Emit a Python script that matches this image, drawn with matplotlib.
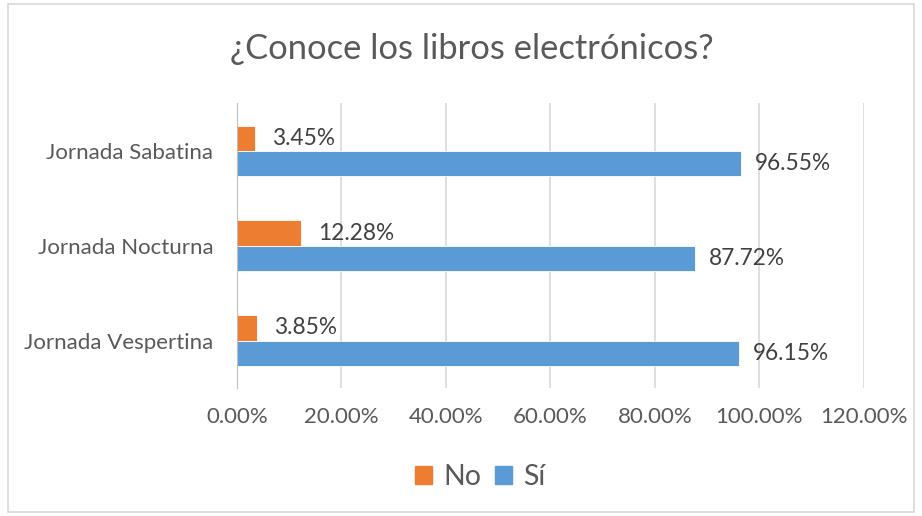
import matplotlib.pyplot as plt
import matplotlib.patches as mpatches
import numpy as np

# ─── Datos ────────────────────────────────────────────────────────────────────
jornadas = ["Jornada Vespertina", "Jornada Nocturna", "Jornada Sabatina"]
no_vals = [3.85, 12.28, 3.45]
si_vals = [96.15, 87.72, 96.55]
xticks = [0, 20, 40, 60, 80, 100, 120]

NARANJA = "#ED7D31"
AZUL = "#5B9BD5"
GRIS = "#595959"

plt.rcParams["font.family"] = ["Lato", "DejaVu Sans"]

fig = plt.figure(figsize=(9.22, 5.16), dpi=100)
ax = fig.add_axes([0.257, 0.248, 0.680, 0.552])

# marco exterior del gráfico
fig.patches.append(mpatches.Rectangle((0.009, 0.008), 0.982, 0.984, transform=fig.transFigure,
                                      fill=False, edgecolor="#d9d9d9", linewidth=1.2))

y = np.arange(len(jornadas))
h = 0.265
ax.barh(y - h / 2, si_vals, height=h, color=AZUL, edgecolor="white", linewidth=0.6, zorder=3)
ax.barh(y + h / 2, no_vals, height=h, color=NARANJA, edgecolor="white", linewidth=0.6, zorder=3)

for yi, v in zip(y, si_vals):
    ax.annotate(f"{v:.2f}%", (v, yi - h / 2), xytext=(10, 0), textcoords="offset points",
                va="center", ha="left", fontsize=16.3, color="#404040")
for yi, v in zip(y, no_vals):
    ax.annotate(f"{v:.2f}%", (v, yi + h / 2), xytext=(12, 0), textcoords="offset points",
                va="center", ha="left", fontsize=16.3, color="#404040")

ax.set_xlim(0, 120)
ax.set_ylim(-0.5, len(jornadas) - 0.5)
ax.set_xticks(xticks)
ax.set_xticklabels([f"{t:.2f}%" for t in xticks], fontsize=16, color=GRIS)
ax.set_yticks(y)
ax.set_yticklabels(jornadas, fontsize=16, color=GRIS)
ax.tick_params(axis="both", length=0)
ax.tick_params(axis="x", pad=14)
ax.tick_params(axis="y", pad=17)

ax.grid(axis="x", color="#d9d9d9", linewidth=1.2, zorder=0)
for s in ["top", "right", "bottom"]:
    ax.spines[s].set_visible(False)
ax.spines["left"].set_color("#bfbfbf")
ax.spines["left"].set_zorder(4)

fig.text(0.512, 0.905, "¿Conoce los libros electrónicos?", ha="center", va="center",
         fontsize=24.8, color=GRIS)

handles = [mpatches.Patch(color=NARANJA, label="No"), mpatches.Patch(color=AZUL, label="Sí")]
fig.legend(handles=handles, loc="center", bbox_to_anchor=(0.521, 0.075), ncol=2, frameon=False,
           fontsize=20.5, labelcolor=GRIS, handlelength=0.6, handleheight=0.6,
           handletextpad=0.4, columnspacing=0.45)

fig.savefig("out.png", dpi=100)
